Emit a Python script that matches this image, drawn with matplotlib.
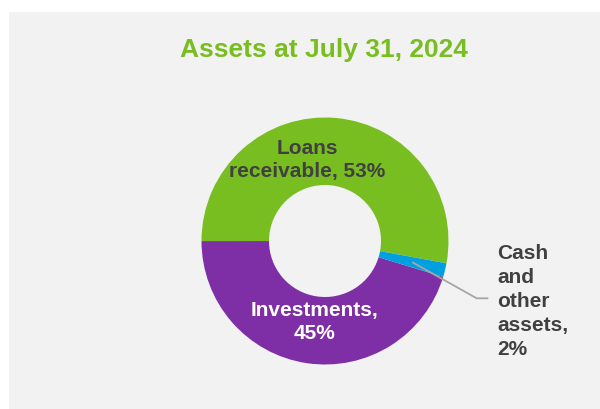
import numpy as np
import matplotlib
matplotlib.use("Agg")
import matplotlib.pyplot as plt
from matplotlib.patches import Rectangle

plt.rcParams['font.family'] = ['Liberation Sans', 'DejaVu Sans']

# Дані з діаграми
categories = ["Loans receivable", "Investments", "Cash and other assets"]
shares = [52.9, 45.3, 1.8]
label_texts = ["Loans\nreceivable, 53%", "Investments,\n45%", "Cash\nand\nother\nassets,\n2%"]
colors = ["#78BE20", "#7E2FA5", "#00A0E0"]

W, H = 600, 410
fig = plt.figure(figsize=(6, 4.1), dpi=100, facecolor="white")

# Сірий фон області діаграми
fig.patches.append(Rectangle((9 / W, 0), 1 - 9 / W, 1 - 13 / H,
                             transform=fig.transFigure, facecolor="#F2F2F2",
                             edgecolor="none", zorder=-10))

ax = fig.add_axes([0, 0, 1, 1])
ax.patch.set_alpha(0)

cx, cy = 325, H - 242
r_out, r_in = 123.5, 56
wedges, _ = ax.pie(shares, colors=colors, startangle=-10.4, counterclock=True,
                   center=(cx, cy), radius=r_out,
                   wedgeprops=dict(width=r_out - r_in, edgecolor="none"))
ax.set_xlim(0, W)
ax.set_ylim(0, H)
ax.set_aspect("auto")
ax.axis("off")

# Назва
fig.text(324 / W, 1 - 38 / H, "Assets at July 31, 2024", ha="center", va="top",
         fontsize=19, fontweight="bold", color="#78BE20")

# Підписи сегментів
ax.text(307, H - 139, label_texts[0], ha="center", va="top", fontsize=15,
        fontweight="bold", color="#404040", linespacing=1.28)
ax.text(314, H - 301, label_texts[1], ha="center", va="top", fontsize=15,
        fontweight="bold", color="white", linespacing=1.28)
ax.text(497, H - 244, label_texts[2], ha="left", va="top", fontsize=15,
        fontweight="bold", color="#404040", linespacing=1.33)

# Лінія-виноска для малого сегмента
w = wedges[2]
mid = np.deg2rad((w.theta1 + w.theta2) / 2)
r_mid = (r_out + r_in) / 2
x0, y0 = cx + r_mid * np.cos(mid), cy + r_mid * np.sin(mid)
ax.plot([x0, 476.7, 488.3], [y0, H - 299.3, H - 299.3], color="#A6A6A6", lw=1.3,
        solid_capstyle="butt")

fig.savefig("out.png", dpi=100)
